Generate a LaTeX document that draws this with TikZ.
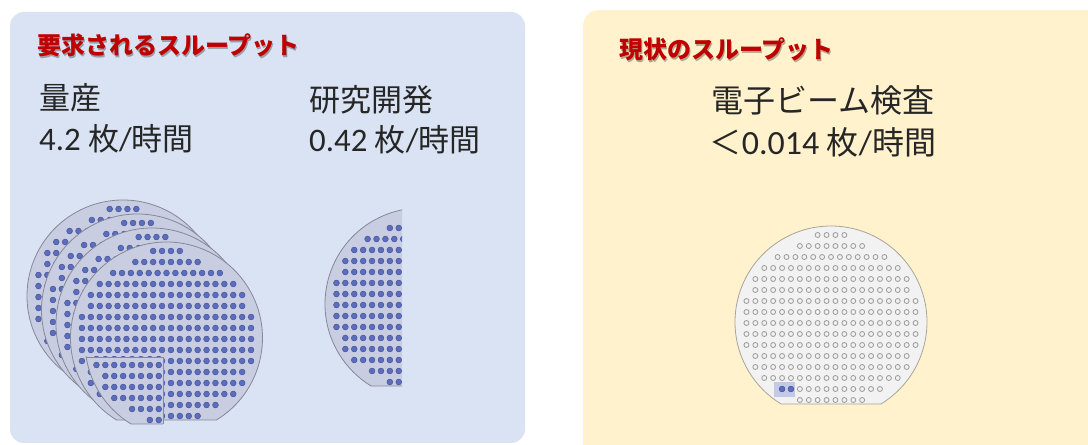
\documentclass[tikz,border=0pt]{standalone}
\usepackage{fontspec}
\newfontfamily\jpfont{Noto Sans CJK JP}
\newfontfamily\latfont[Scale=1.06]{Carlito}

\definecolor{panelblue}{HTML}{DAE3F3}
\definecolor{panelyellow}{HTML}{FFF2CC}
\definecolor{titlered}{HTML}{C00000}
\definecolor{waferlav}{HTML}{C9CDE1}
\definecolor{waferedge}{HTML}{858896}
\definecolor{diefill}{HTML}{5B6DBC}
\definecolor{dieedge}{HTML}{44539A}
\definecolor{waferwhite}{HTML}{F2F2F2}
\definecolor{waferrim}{HTML}{A8A49A}
\definecolor{openedge}{HTML}{9E9E9E}
\definecolor{textdark}{HTML}{262626}
\definecolor{markblue}{HTML}{B7C0E6}

% wafer outline: radius 96 with a flat 82 below the centre
\newcommand{\waferpath}[2]{(#1,#2) ++(58.6:96) arc[start angle=58.6,end angle=-238.6,radius=96] -- cycle}

% die grid: rows of dies, 8.9 apart across and 11 apart down
\newcommand{\diegrid}[4]{%
  \foreach \k/\n in {0/4,1/8,2/13,3/16,4/18,5/18,6/20,7/20,8/20,9/20,10/20,11/18,12/18,13/16,14/12,15/8}{%
    \foreach \j in {1,...,\n}{%
      \path[#3] ({#1+(\j-1-(\n-1)/2)*8.9},{#2-87+11*\k}) circle[radius=#4];
    }%
  }%
}

% a complete wafer with filled dies
\newcommand{\bluewafer}[2]{%
  \path[waferblue] \waferpath{#1}{#2};
  \diegrid{#1}{#2}{die}{2.9}%
}

\begin{document}
\begin{tikzpicture}[x=1bp,y=-1bp,
  waferblue/.style={fill=waferlav, draw=waferedge, line width=0.8bp},
  waferpale/.style={fill=waferwhite, draw=waferrim, line width=0.8bp},
  die/.style={fill=diefill, draw=dieedge, line width=0.5bp},
  opendie/.style={draw=openedge, line width=0.85bp},
  titletext/.style={font=\jpfont\bfseries\fontsize{24bp}{28bp}\selectfont, text=titlered, inner sep=0pt},
  titleshade/.style={font=\jpfont\bfseries\fontsize{24bp}{28bp}\selectfont, text=black, opacity=0.3, inner sep=0pt},
  bodytext/.style={font=\jpfont\fontsize{31bp}{36bp}\selectfont, text=textdark, inner sep=0pt},
  bodytextwide/.style={font=\jpfont\fontsize{32bp}{36bp}\selectfont, text=textdark, inner sep=0pt},
]
\useasboundingbox (0,0) rectangle (1088,445);
\clip (0,0) rectangle (1088,445);
\fill[white] (0,0) rectangle (1088,445);

% panels
\fill[panelblue, rounded corners=14bp] (10,12) rectangle (525,443);
\fill[panelyellow, rounded corners=16bp] (583,10) rectangle (1110,470);

% titles
\node[titleshade, anchor=base west] at (38.2,56.2) {要求されるスループット};
\node[titletext, anchor=base west] (reqtitle) at (37,55) {要求されるスループット};
\node[titleshade, anchor=base west] at (620.2,60.2) {現状のスループット};
\node[titletext, anchor=base west] (curtitle) at (619,59) {現状のスループット};

% required throughput figures
\node[bodytext, anchor=base west] (massname) at (39,110) {量産};
\node[bodytext, anchor=base west] (massrate) at (39,151) {{\latfont 4.2 }枚{\latfont /}時間};
\node[bodytext, anchor=base west] (rdname) at (309,112) {研究開発};
\node[bodytext, anchor=base west] (rdrate) at (309,152) {{\latfont 0.42 }枚{\latfont /}時間};

% current throughput figures
\node[bodytextwide, anchor=base] (ebname) at (823,113) {電子ビーム検査};
\node[bodytextwide, anchor=base] (ebrate) at (823,155) {＜{\latfont 0.014 }枚{\latfont /}時間};

% stack of wafers for mass production, back to front
\bluewafer{123}{296}
\bluewafer{137.5}{310}
\bluewafer{152}{324}
\bluewafer{166.5}{338}

% the extra 0.2 of a wafer in front
\begin{scope}
  \clip (0,357) rectangle (163,460);
  \bluewafer{181}{342}
\end{scope}
\begin{scope}
  \clip \waferpath{181}{342};
  \draw[waferedge, line width=0.8bp] (0,357) rectangle (163,470);
\end{scope}

% 0.42 of a wafer for research and development
\begin{scope}
  \clip (0,0) rectangle (402,445);
  \bluewafer{421}{304}
\end{scope}

% electron-beam inspection wafer
\path[waferpale] \waferpath{831}{322};
\diegrid{831}{322}{opendie}{2.5}
\fill[markblue, opacity=0.8] (774,382) rectangle (795,397);
\path[die] ({831-5.5*8.9},389) circle[radius=2.9];
\path[die] ({831-4.5*8.9},389) circle[radius=2.9];
\end{tikzpicture}
\end{document}
